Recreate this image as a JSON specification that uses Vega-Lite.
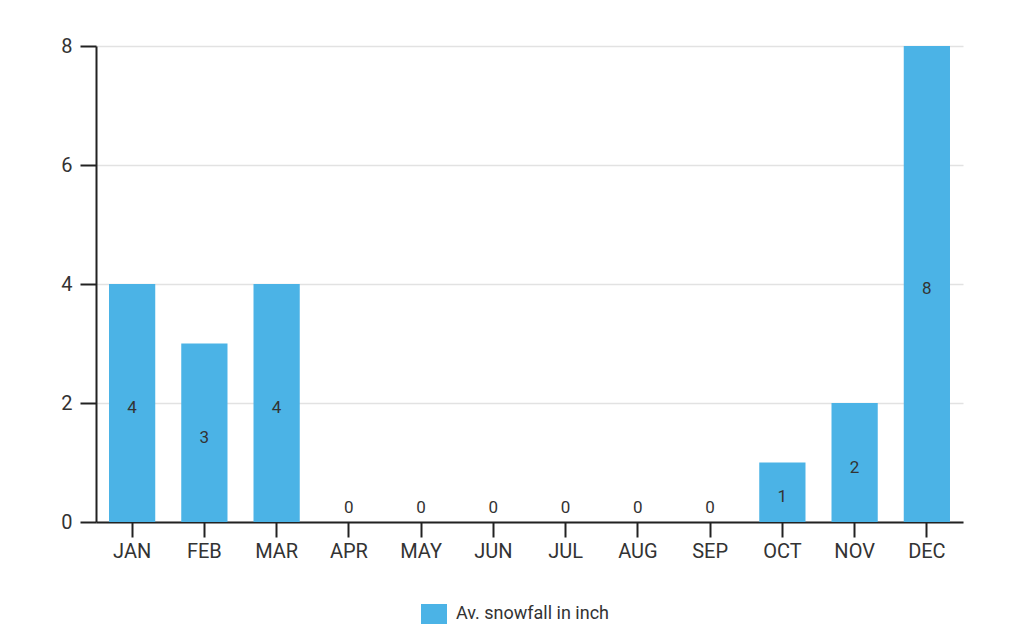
{
  "$schema": "https://vega.github.io/schema/vega-lite/v6.json",
  "autosize": "none",
  "width": 867,
  "height": 476,
  "padding": {"left": 96, "top": 46, "right": 61, "bottom": 118},
  "background": "white",
  "config": {
    "font": "Roboto",
    "view": {"stroke": null}
  },
  "data": {
    "values": [
      {"month": "JAN", "snowfall": 4},
      {"month": "FEB", "snowfall": 3},
      {"month": "MAR", "snowfall": 4},
      {"month": "APR", "snowfall": 0},
      {"month": "MAY", "snowfall": 0},
      {"month": "JUN", "snowfall": 0},
      {"month": "JUL", "snowfall": 0},
      {"month": "AUG", "snowfall": 0},
      {"month": "SEP", "snowfall": 0},
      {"month": "OCT", "snowfall": 1},
      {"month": "NOV", "snowfall": 2},
      {"month": "DEC", "snowfall": 8}
    ]
  },
  "encoding": {
    "x": {
      "field": "month",
      "type": "nominal",
      "sort": null,
      "scale": {"paddingInner": 0.36, "paddingOuter": 0.18},
      "axis": {
        "title": null,
        "labelAngle": 0,
        "labelFont": "Roboto",
        "labelFontSize": 20,
        "labelColor": "#333333",
        "labelPadding": 4,
        "tickSize": 15,
        "tickColor": "#222222",
        "tickWidth": 2,
        "domainColor": "#222222",
        "domainWidth": 2,
        "grid": false
      }
    }
  },
  "layer": [
    {
      "mark": {"type": "bar", "color": "#4bb3e6"},
      "encoding": {
        "y": {
          "field": "snowfall",
          "type": "quantitative",
          "scale": {"domain": [0, 8], "nice": false},
          "axis": {
            "title": null,
            "values": [0, 2, 4, 6, 8],
            "format": "d",
            "labelFont": "Roboto",
            "labelFontSize": 20,
            "labelColor": "#333333",
            "labelPadding": 8,
            "tickSize": 16,
            "tickColor": "#222222",
            "tickWidth": 2,
            "domainColor": "#222222",
            "domainWidth": 2,
            "grid": true,
            "gridColor": "#e2e2e2",
            "gridWidth": 1.5
          }
        },
        "fill": {
          "datum": "Av. snowfall in inch",
          "type": "nominal",
          "scale": {"range": ["#4bb3e6"]},
          "legend": {
            "title": null,
            "orient": "none",
            "legendX": 318,
            "legendY": 548,
            "padding": 0,
            "symbolType": "M-0.65,-0.5H0.65V0.5H-0.65Z",
            "symbolSize": 1600,
            "symbolStrokeWidth": 0,
            "labelFont": "Roboto",
            "labelFontSize": 18,
            "labelColor": "#333333",
            "labelOffset": 2
          }
        }
      }
    },
    {
      "transform": [
        {"filter": "datum.snowfall > 0"},
        {"calculate": "datum.snowfall / 2", "as": "mid"}
      ],
      "mark": {"type": "text", "font": "Roboto", "fontSize": 17, "color": "#333333", "baseline": "middle", "dy": 5},
      "encoding": {
        "y": {"field": "mid", "type": "quantitative"},
        "text": {"field": "snowfall", "type": "quantitative"}
      }
    },
    {
      "transform": [{"filter": "datum.snowfall == 0"}],
      "mark": {"type": "text", "font": "Roboto", "fontSize": 17, "color": "#333333", "baseline": "middle", "dy": -14},
      "encoding": {
        "y": {"field": "snowfall", "type": "quantitative"},
        "text": {"field": "snowfall", "type": "quantitative"}
      }
    }
  ]
}
